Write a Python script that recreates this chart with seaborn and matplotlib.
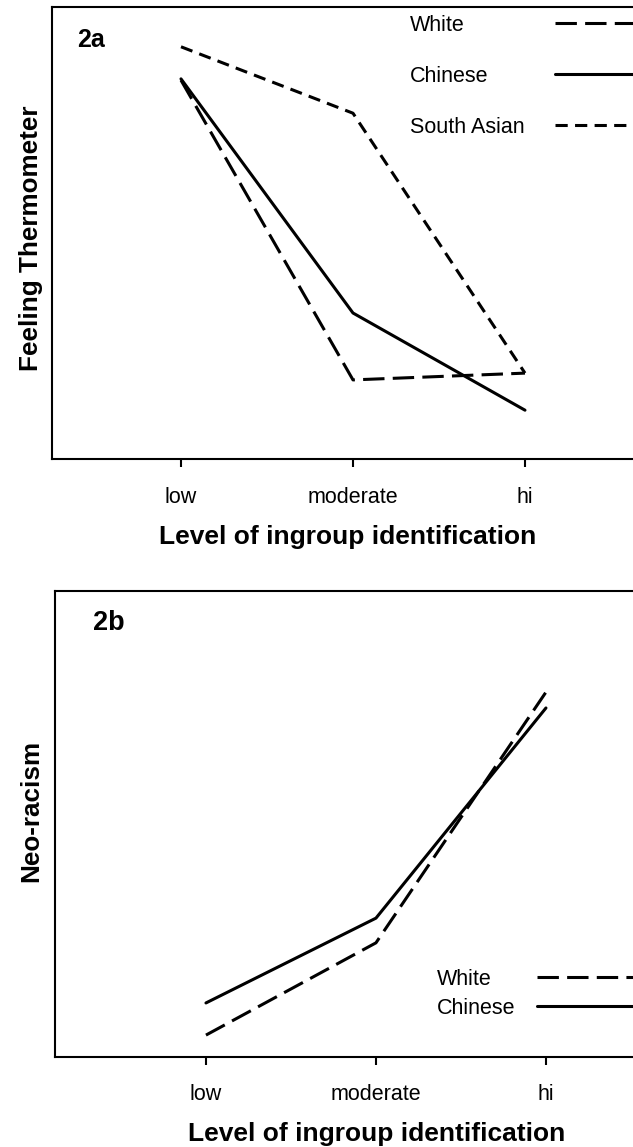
import matplotlib
matplotlib.use("Agg")
import matplotlib.pyplot as plt
from matplotlib.lines import Line2D
import seaborn as sns
import pandas as pd

# values (arbitrary 0-100 scale, no y ticks in the original)
levels = ["low", "moderate", "hi"]

groups_a = ["White", "Chinese", "South Asian"]
white_a = [83.8, 17.5, 19.0]
chinese_a = [84.1, 32.3, 10.8]
south_asian_a = [91.2, 76.5, 19.0]

groups_b = ["White", "Chinese"]
white_b = [4.7, 24.5, 78.3]
chinese_b = [11.6, 29.8, 74.9]

sns.set_style("ticks")
plt.rcParams['font.family'] = ['Liberation Sans', 'DejaVu Sans']
plt.rcParams['text.color'] = 'black'
plt.rcParams['axes.labelcolor'] = 'black'
plt.rcParams['xtick.color'] = 'black'
plt.rcParams['ytick.color'] = 'black'

dash_map = {"White": (7, 2.7), "Chinese": "", "South Asian": (4, 2.4)}
pal = {g: "black" for g in groups_a}


def make_df(groups, series):
    rows = []
    for g, vals in zip(groups, series):
        for lv, v in zip(levels, vals):
            rows.append({"level": lv, "value": v, "group": g})
    return pd.DataFrame(rows)


df_a = make_df(groups_a, [white_a, chinese_a, south_asian_a])
df_b = make_df(groups_b, [white_b, chinese_b])

W, H = 633, 1147
fig = plt.figure(figsize=(W / 100, H / 100), dpi=100)
ax1 = fig.add_axes([52 / W, (H - 459) / H, 581 / W, 452 / H])
ax2 = fig.add_axes([55 / W, (H - 1057) / H, 578 / W, 466 / H])


def draw(ax, df, groups, xlim, ylab, ylab_xy, xlab_xy, tag, tag_xy, tag_size,
         leg_text_x, leg_handle_x, leg_top, spacing, tpad):
    sns.lineplot(data=df, x="level", y="value", hue="group", style="group",
                 hue_order=groups, style_order=groups, palette=pal,
                 dashes=dash_map, linewidth=2.2, sort=False, legend=False, ax=ax)
    ax.set_xlim(*xlim)
    ax.set_ylim(0, 100)
    ax.set_yticks([])
    ax.set_xticks(range(len(levels)))
    ax.set_xticklabels(levels, fontsize=15.5)
    ax.tick_params(axis="x", length=6, width=1.5, pad=tpad, color="black",
                   labelcolor="black")
    for s in ["left", "top", "bottom"]:
        ax.spines[s].set_linewidth(1.5)
        ax.spines[s].set_color("black")
    ax.spines["right"].set_visible(False)

    ax.set_ylabel(ylab, fontsize=18.8, fontweight="bold")
    ax.yaxis.set_label_coords(*ylab_xy)
    ax.set_xlabel("Level of ingroup identification", fontsize=19, fontweight="bold")
    ax.xaxis.set_label_coords(*xlab_xy)
    ax.xaxis.label.set_va("top")

    ax.text(tag_xy[0], tag_xy[1], tag, transform=ax.transAxes, fontsize=tag_size,
            fontweight="bold", va="top", ha="left")

    handles = [Line2D([], [], color="black", linewidth=2.2,
                      dashes=dash_map[g] if dash_map[g] else (None, None)) for g in groups]
    # labels on the left, sample lines on the right (two aligned legends)
    leg_t = ax.legend(handles, groups, loc="upper left",
                      bbox_to_anchor=(leg_text_x / W, 1 - leg_top / H),
                      bbox_transform=fig.transFigure, frameon=False,
                      handlelength=0, handletextpad=0, borderpad=0, borderaxespad=0,
                      labelspacing=spacing, fontsize=15.5)
    ax.add_artist(leg_t)
    ax.legend(handles, [""] * len(groups), loc="upper left",
              bbox_to_anchor=(leg_handle_x / W, 1 - leg_top / H),
              bbox_transform=fig.transFigure, frameon=False,
              handlelength=6, handletextpad=0, borderpad=0, borderaxespad=0,
              labelspacing=spacing, fontsize=15.5)


draw(ax1, df_a, groups_a, (-0.75, 2.628), "Feeling Thermometer",
     (-0.0155, 0.489), (0.509, -0.147), "2a", (0.043, 0.954), 18,
     410, 555, 15, 1.39, 14)
draw(ax2, df_b, groups_b, (-0.888, 2.512), "Neo-racism",
     (-0.0208, 0.528), (0.557, -0.14), "2b", (0.066, 0.959), 19.5,
     437, 537, 969, 0.36, 13.5)

fig.savefig("out.png", dpi=100)
